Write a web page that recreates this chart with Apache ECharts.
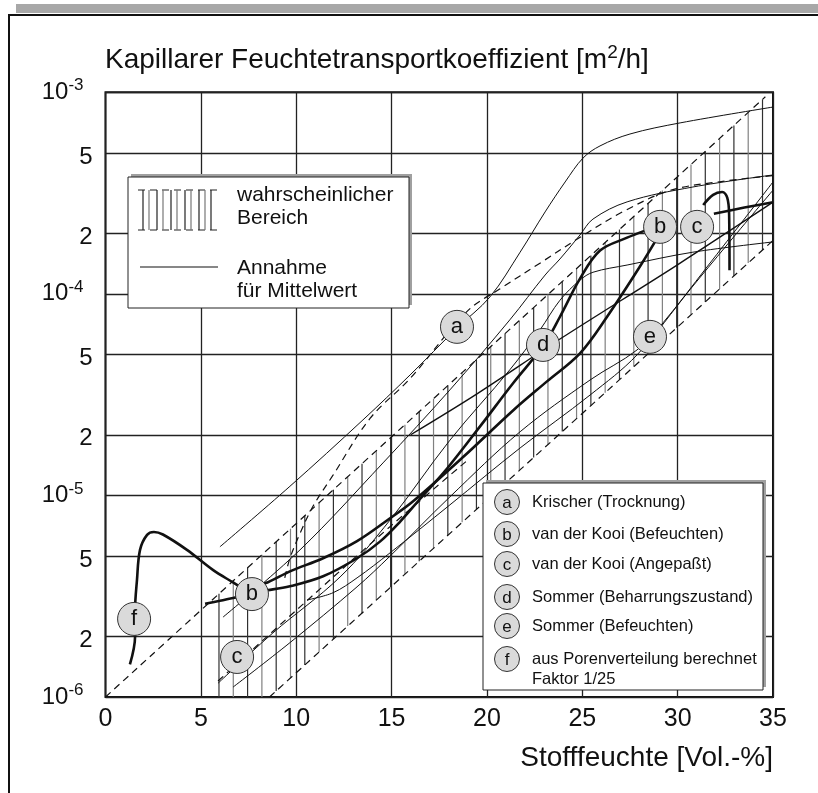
<!DOCTYPE html>
<html>
<head>
<meta charset="utf-8">
<script src="https://cdn.jsdelivr.net/npm/echarts@6/dist/echarts.min.js"></script>
<style>
html, body { margin: 0; padding: 0; background: #fff; }
#main { width: 818px; height: 793px; }
</style>
</head>
<body>
<div id="main"></div>
<script>
var chartDom = document.getElementById('main');
var myChart = echarts.init(chartDom);
var option;

// ticks
var xTicks = [0, 5, 10, 15, 20, 25, 30, 35];
var yTicks = [1e-6, 2e-6, 5e-6, 1e-5, 2e-5, 5e-5, 1e-4, 2e-4, 5e-4, 1e-3];

// wahrscheinlicher Bereich: dashed limits + vertical hatching
var bandUpper = [[0, 1.0e-6], [34.6, 9.5e-4]];
var bandLower = [[8.6, 1.0e-6], [35, 1.84e-4]];
var hatchX = [5.95, 6.7, 7.45, 8.2, 8.95, 9.7, 10.45, 11.2, 11.95, 12.7, 13.45, 14.2, 14.95,
    15.7, 16.45, 17.2, 17.95, 18.7, 19.45, 20.2, 20.95, 21.7, 22.45, 23.2, 23.95, 24.7,
    25.45, 26.2, 26.95, 27.7, 28.45, 29.2, 29.95, 30.7, 31.45, 32.2, 32.95, 33.7, 34.45];
var dashInner = [[9.4, 3.9e-6], [9.67, 4.88e-6], [10.2, 6.48e-6], [10.88, 8.83e-6], [11.93, 1.26e-5],
    [13.87, 2.41e-5], [15.97, 3.8e-5], [18.96, 8.19e-5], [20.69, 1.06e-4], [22.78, 1.42e-4],
    [25.04, 1.95e-4], [27.14, 2.56e-4], [29.6, 3.26e-4], [32.2, 3.6e-4], [35, 3.86e-4]];
var dashLow = [[5.9, 1.2e-6], [10.2, 2.8e-6], [14.92, 7.0e-6], [19.0, 1.5e-5]];

// Annahme fuer Mittelwert (thin)
var thinA = [[6.0, 5.56e-6], [9.67, 1.11e-5], [13.5, 2.37e-5], [15.97, 3.96e-5], [18.43, 6.77e-5],
    [20.16, 9.66e-5], [21.74, 1.61e-4], [23.05, 2.55e-4], [24.1, 3.59e-4], [25.04, 4.72e-4],
    [25.93, 5.42e-4], [27.5, 6.21e-4], [30.13, 7.05e-4], [35, 8.45e-4]];
var thin2 = [[6.16, 2.49e-6], [10.2, 5.37e-6], [14.55, 1.45e-5], [18.06, 3.34e-5], [21.2, 7.43e-5],
    [23.05, 1.24e-4], [23.83, 1.49e-4], [24.88, 1.96e-4], [25.56, 2.35e-4], [27.35, 2.86e-4],
    [30.8, 3.39e-4], [35, 3.89e-4]];
var thin3 = [[5.9, 1.17e-6], [8.78, 2.08e-6], [12.3, 3.94e-6], [14.92, 7.55e-6], [18.06, 1.88e-5],
    [21.2, 4.2e-5], [22.78, 6.62e-5], [23.83, 9.3e-5], [24.88, 1.17e-4], [25.56, 1.28e-4],
    [27.35, 1.39e-4], [30.8, 1.61e-4], [35, 1.81e-4]];
var thin4 = [[6.69, 1.12e-6], [9.67, 1.86e-6], [13.19, 3.52e-6], [14.92, 5.0e-6], [18.06, 9.84e-6],
    [21.74, 2.07e-5], [25.41, 3.74e-5], [27.87, 5.27e-5], [29.23, 7.18e-5], [31.54, 1.36e-4], [35, 3.59e-4]];
var thin5 = [[10.57, 3.03e-6], [11.93, 3.29e-6], [13.19, 3.9e-6], [14.92, 5.19e-6], [18.06, 8.98e-6],
    [21.74, 1.72e-5], [25.41, 3.15e-5], [27.87, 4.98e-5], [30.65, 1.05e-4], [32.59, 1.75e-4], [35, 3.27e-4]];
var thin6 = [[16.0, 2.0e-5], [19.5, 3.2e-5], [23.83, 5.97e-5], [29.97, 1.39e-4], [35, 2.85e-4]];

// measured curves (thick)
var thickF = [[1.28, 1.45e-6], [1.55, 1.99e-6], [1.55, 2.7e-6], [1.65, 3.8e-6], [1.81, 5.37e-6],
    [2.18, 6.37e-6], [2.54, 6.59e-6], [3.01, 6.4e-6], [4.27, 5.37e-6], [5.63, 4.27e-6], [6.69, 3.7e-6], [7.1, 3.5e-6]];
var thickG = [[5.22, 2.9e-6], [6.0, 3.0e-6], [6.69, 3.1e-6], [7.4, 3.2e-6]];
var thickA = [[8.0, 3.35e-6], [8.52, 3.39e-6], [9.67, 3.54e-6], [11.41, 3.97e-6], [13.19, 4.88e-6],
    [14.39, 5.9e-6], [15.44, 7.4e-6], [16.49, 9.6e-6], [17.91, 1.36e-5], [19.64, 2.2e-5], [21.37, 3.6e-5],
    [23.0, 5.6e-5], [23.83, 7.7e-5], [24.88, 1.19e-4], [25.93, 1.64e-4], [27.35, 1.9e-4], [28.29, 2.06e-4]];
var thickB = [[8.0, 3.6e-6], [8.52, 3.71e-6], [9.67, 4.2e-6], [11.41, 4.88e-6], [13.19, 5.93e-6],
    [14.92, 7.7e-6], [16.13, 9.35e-6], [18.75, 1.55e-5], [21.37, 2.64e-5], [23.15, 3.68e-5],
    [24.88, 5.07e-5], [26.3, 7.7e-5], [28.03, 1.37e-4], [29.08, 2.0e-4]];
var thickC = [[31.9, 2.5e-4], [33.5, 2.68e-4], [35, 2.85e-4]];
var hookC = [[31.34, 2.76e-4], [31.86, 3.1e-4], [32.33, 3.2e-4], [32.6, 3.0e-4], [32.7, 2.46e-4], [32.72, 1.31e-4]];

// circle markers on the curves
var markers = [
    [1.5, 2.44e-6, 'f'], [7.68, 3.24e-6, 'b'], [6.9, 1.58e-6, 'c'], [18.43, 6.86e-5, 'a'],
    [22.94, 5.58e-5, 'd'], [28.55, 6.12e-5, 'e'], [29.08, 2.15e-4, 'b'], [31.02, 2.15e-4, 'c']
];

var legendNames = ['Krischer (Trocknung)', 'van der Kooi (Befeuchten)', 'van der Kooi (Angepaßt)',
    'Sommer (Beharrungszustand)', 'Sommer (Befeuchten)', 'aus Porenverteilung berechnet\nFaktor 1/25'];
var legendKeys = ['a', 'b', 'c', 'd', 'e', 'f'];

var FONT = 'Liberation Sans, Arial, sans-serif';

function lg(arr) {
    return arr.map(function (p) { return [p[0], Math.log10(p[1])]; });
}

function curve(data, width, dashed) {
    return {
        type: 'line',
        data: lg(data),
        showSymbol: false,
        smooth: 0.35,
        silent: true,
        clip: true,
        z: width > 2 ? 4 : 3,
        lineStyle: { color: '#111', width: width, type: dashed ? [7, 5] : 'solid' }
    };
}

function hatchItem(params, api) {
    var cs = params.coordSys;
    var u0 = api.coord([bandUpper[0][0], Math.log10(bandUpper[0][1])]);
    var u1 = api.coord([bandUpper[1][0], Math.log10(bandUpper[1][1])]);
    var l0 = api.coord([bandLower[0][0], Math.log10(bandLower[0][1])]);
    var l1 = api.coord([bandLower[1][0], Math.log10(bandLower[1][1])]);
    var px = api.coord([api.value(0), -6])[0];
    var yTop = u0[1] + (u1[1] - u0[1]) * (px - u0[0]) / (u1[0] - u0[0]);
    var yBot = cs.y + cs.height;
    if (px > l0[0]) {
        yBot = l0[1] + (l1[1] - l0[1]) * (px - l0[0]) / (l1[0] - l0[0]);
    }
    yTop = Math.max(yTop, cs.y);
    yBot = Math.min(yBot, cs.y + cs.height);
    return {
        type: 'line',
        shape: { x1: px, y1: yTop, x2: px, y2: yBot },
        style: { stroke: params.dataIndex % 2 ? '#808080' : '#303030', lineWidth: 1.2 }
    };
}

var graphics = [
    { type: 'rect', shape: { x: 16, y: 4, width: 802, height: 9 }, style: { fill: '#a8a8a8' } },
    { type: 'line', shape: { x1: 8, y1: 15, x2: 818, y2: 15 }, style: { stroke: '#111', lineWidth: 2 } },
    { type: 'line', shape: { x1: 9, y1: 15, x2: 9, y2: 793 }, style: { stroke: '#111', lineWidth: 2 } },
    {
        type: 'text', x: 105, y: 43, z: 100,
        style: {
            text: '{t|Kapillarer Feuchtetransportkoeffizient [m}{s|2}{t|/h]}',
            rich: {
                t: { fontSize: 28, fontFamily: FONT, fill: '#111', lineHeight: 35 },
                s: { fontSize: 19, fontFamily: FONT, fill: '#111', verticalAlign: 'top', lineHeight: 19 }
            }
        }
    },
    {
        type: 'text', x: 773, y: 744, z: 100,
        style: { text: 'Stofffeuchte [Vol.-%]', align: 'right', fontSize: 28, fontFamily: FONT, fill: '#111' }
    },
    // legend 1
    { type: 'rect', z: 100, shape: { x: 131, y: 174, width: 281, height: 131 }, style: { fill: '#a0a0a0' } },
    { type: 'rect', z: 101, shape: { x: 128, y: 177, width: 281, height: 131 }, style: { fill: '#fff', stroke: '#222', lineWidth: 1 } },
    { type: 'line', z: 102, shape: { x1: 138, y1: 190, x2: 217, y2: 190 }, style: { stroke: '#222', lineWidth: 1.2, lineDash: [7, 5] } },
    { type: 'line', z: 102, shape: { x1: 138, y1: 230, x2: 217, y2: 230 }, style: { stroke: '#222', lineWidth: 1.2, lineDash: [7, 5] } },
    { type: 'line', z: 102, shape: { x1: 140, y1: 267, x2: 218, y2: 267 }, style: { stroke: '#111', lineWidth: 1.2 } },
    { type: 'text', z: 102, x: 237, y: 195, style: { text: 'wahrscheinlicher', verticalAlign: 'middle', fontSize: 21, fontFamily: FONT, fill: '#111' } },
    { type: 'text', z: 102, x: 237, y: 218, style: { text: 'Bereich', verticalAlign: 'middle', fontSize: 21, fontFamily: FONT, fill: '#111' } },
    { type: 'text', z: 102, x: 237, y: 268, style: { text: 'Annahme', verticalAlign: 'middle', fontSize: 21, fontFamily: FONT, fill: '#111' } },
    { type: 'text', z: 102, x: 237, y: 291, style: { text: 'für Mittelwert', verticalAlign: 'middle', fontSize: 21, fontFamily: FONT, fill: '#111' } },
    // legend 2
    { type: 'rect', z: 100, shape: { x: 486, y: 480, width: 280, height: 207 }, style: { fill: '#a0a0a0' } },
    { type: 'rect', z: 101, shape: { x: 483, y: 483, width: 280, height: 207 }, style: { fill: '#fff', stroke: '#222', lineWidth: 1 } }
];

[143, 149, 157, 163, 171, 177, 185, 191, 199, 205, 211].forEach(function (x, i) {
    graphics.push({ type: 'line', z: 102, shape: { x1: x, y1: 190, x2: x, y2: 230 },
        style: { stroke: i % 2 ? '#777' : '#222', lineWidth: 1.2 } });
});

var legendRowY = [502, 534, 564, 597, 626, 659];
legendKeys.forEach(function (k, i) {
    graphics.push({ type: 'circle', z: 102, shape: { cx: 507, cy: legendRowY[i], r: 12.5 },
        style: { fill: '#dadada', stroke: '#333', lineWidth: 1 } });
    graphics.push({ type: 'text', z: 103, x: 507, y: legendRowY[i] + 1,
        style: { text: k, align: 'center', verticalAlign: 'middle', fontSize: 17, fontFamily: FONT, fill: '#111' } });
    graphics.push({ type: 'text', z: 102, x: 532, y: legendRowY[i] - 10,
        style: { text: legendNames[i], verticalAlign: 'top', fontSize: 16.5, lineHeight: 20, fontFamily: FONT, fill: '#111' } });
});

option = {
    animation: false,
    backgroundColor: '#fff',
    grid: { left: 105.5, right: 45, top: 92.3, bottom: 96, show: true, borderColor: '#111', borderWidth: 2 },
    xAxis: {
        type: 'value', min: 0, max: 35, interval: 5,
        axisLine: { show: false }, axisTick: { show: false },
        axisLabel: { fontSize: 25, fontFamily: FONT, color: '#111', margin: 10 },
        splitLine: { lineStyle: { color: '#222', width: 1.3 } }
    },
    yAxis: {
        type: 'value', min: -6, max: -3,
        axisLine: { show: false },
        axisTick: { show: false, customValues: yTicks.map(Math.log10) },
        axisLabel: {
            customValues: yTicks.map(Math.log10),
            margin: 13,
            formatter: function (v) {
                var e = Math.round(v);
                if (Math.abs(v - e) < 1e-6) return '{b|10}{s|' + e + '}';
                return '{m|' + Math.round(Math.pow(10, v - Math.floor(v))) + '}';
            },
            rich: {
                b: { fontSize: 24, fontFamily: FONT, color: '#111', lineHeight: 30 },
                s: { fontSize: 17, fontFamily: FONT, color: '#111', verticalAlign: 'top', lineHeight: 17, padding: [0, 9, 0, 0] },
                m: { fontSize: 24, fontFamily: FONT, color: '#111', padding: [8, 0, 0, 0] }
            }
        },
        splitLine: { lineStyle: { color: '#222', width: 1.3 } }
    },
    graphic: graphics,
    series: [
        {
            type: 'custom',
            silent: true,
            z: 2,
            renderItem: hatchItem,
            data: hatchX.map(function (x) { return [x, -6]; }),
            encode: { x: 0, y: 1 }
        },
        curve(bandUpper, 1.2, true),
        curve(bandLower, 1.2, true),
        curve(dashInner, 1.2, true),
        curve(dashLow, 1.2, true),
        curve(thinA, 1, false),
        curve(thin2, 1, false),
        curve(thin3, 1, false),
        curve(thin4, 1, false),
        curve(thin5, 1, false),
        curve(thin6, 1.4, false),
        curve(thickF, 2.6, false),
        curve(thickG, 2.6, false),
        curve(thickA, 2.6, false),
        curve(thickB, 2.6, false),
        curve(thickC, 2.6, false),
        curve(hookC, 2.6, false),
        {
            type: 'scatter',
            silent: true,
            z: 10,
            symbolSize: 33,
            data: markers.map(function (m) { return [m[0], Math.log10(m[1]), m[2]]; }),
            itemStyle: { color: '#dadada', borderColor: '#333', borderWidth: 1, opacity: 1 },
            label: {
                show: true, position: 'inside', fontSize: 22, fontFamily: FONT, color: '#111',
                formatter: function (p) { return p.data[2]; }
            }
        }
    ]
};

option && myChart.setOption(option);
</script>
</body>
</html>
